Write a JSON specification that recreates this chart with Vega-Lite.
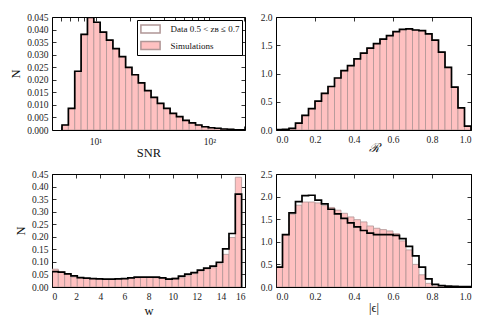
{
  "$schema": "https://vega.github.io/schema/vega-lite/v6.json",
  "background": "white",
  "padding": {"left": 9, "top": 11, "right": 5, "bottom": 5},
  "datasets": {
    "s1": [
      {"lo": 5.082, "hi": 5.778, "n": 0.0020}, {"lo": 5.778, "hi": 6.571, "n": 0.0086}, {"lo": 6.571, "hi": 7.472, "n": 0.0234},
      {"lo": 7.472, "hi": 8.495, "n": 0.0381}, {"lo": 8.495, "hi": 9.661, "n": 0.0448}, {"lo": 9.661, "hi": 10.98, "n": 0.0429},
      {"lo": 10.98, "hi": 12.49, "n": 0.0390}, {"lo": 12.49, "hi": 14.21, "n": 0.0358}, {"lo": 14.21, "hi": 16.15, "n": 0.0324},
      {"lo": 16.15, "hi": 18.37, "n": 0.0292}, {"lo": 18.37, "hi": 20.88, "n": 0.0249}, {"lo": 20.88, "hi": 23.75, "n": 0.0220},
      {"lo": 23.75, "hi": 27.01, "n": 0.0188}, {"lo": 27.01, "hi": 30.71, "n": 0.0157}, {"lo": 30.71, "hi": 34.91, "n": 0.0130},
      {"lo": 34.91, "hi": 39.70, "n": 0.0106}, {"lo": 39.70, "hi": 45.13, "n": 0.0086}, {"lo": 45.13, "hi": 51.33, "n": 0.0066},
      {"lo": 51.33, "hi": 58.37, "n": 0.0053}, {"lo": 58.37, "hi": 66.37, "n": 0.0038}, {"lo": 66.37, "hi": 75.47, "n": 0.0028},
      {"lo": 75.47, "hi": 85.82, "n": 0.0020}, {"lo": 85.82, "hi": 97.59, "n": 0.0013}, {"lo": 97.59, "hi": 110.97, "n": 0.0009},
      {"lo": 110.97, "hi": 126.2, "n": 0.0007}, {"lo": 126.2, "hi": 143.5, "n": 0.0004}, {"lo": 143.5, "hi": 163.2, "n": 0.0003},
      {"lo": 163.2, "hi": 185.5, "n": 0.0001}, {"lo": 185.5, "hi": 210.9, "n": 0.0001}
    ],
    "d1": [
      {"k": 0, "x": 5.082, "n": 0}, {"k": 1, "x": 5.082, "n": 0.0020}, {"k": 2, "x": 5.778, "n": 0.0086}, {"k": 3, "x": 6.571, "n": 0.0234},
      {"k": 4, "x": 7.472, "n": 0.0381}, {"k": 5, "x": 8.495, "n": 0.0448}, {"k": 6, "x": 9.661, "n": 0.0429}, {"k": 7, "x": 10.98, "n": 0.0390},
      {"k": 8, "x": 12.49, "n": 0.0358}, {"k": 9, "x": 14.21, "n": 0.0324}, {"k": 10, "x": 16.15, "n": 0.0292}, {"k": 11, "x": 18.37, "n": 0.0249},
      {"k": 12, "x": 20.88, "n": 0.0220}, {"k": 13, "x": 23.75, "n": 0.0188}, {"k": 14, "x": 27.01, "n": 0.0157}, {"k": 15, "x": 30.71, "n": 0.0130},
      {"k": 16, "x": 34.91, "n": 0.0106}, {"k": 17, "x": 39.70, "n": 0.0086}, {"k": 18, "x": 45.13, "n": 0.0066}, {"k": 19, "x": 51.33, "n": 0.0053},
      {"k": 20, "x": 58.37, "n": 0.0038}, {"k": 21, "x": 66.37, "n": 0.0028}, {"k": 22, "x": 75.47, "n": 0.0020}, {"k": 23, "x": 85.82, "n": 0.0013},
      {"k": 24, "x": 97.59, "n": 0.0009}, {"k": 25, "x": 110.97, "n": 0.0007}, {"k": 26, "x": 126.2, "n": 0.0004}, {"k": 27, "x": 143.5, "n": 0.0003},
      {"k": 28, "x": 163.2, "n": 0.0001}, {"k": 29, "x": 185.5, "n": 0.0001}, {"k": 30, "x": 210.9, "n": 0.0001}, {"k": 31, "x": 210.9, "n": 0}
    ],
    "s2": [
      {"lo": 0, "hi": 0.0333, "n": 0.005}, {"lo": 0.0333, "hi": 0.0667, "n": 0.01}, {"lo": 0.0667, "hi": 0.1, "n": 0.03},
      {"lo": 0.1, "hi": 0.1333, "n": 0.12}, {"lo": 0.1333, "hi": 0.1667, "n": 0.26}, {"lo": 0.1667, "hi": 0.2, "n": 0.38},
      {"lo": 0.2, "hi": 0.2333, "n": 0.51}, {"lo": 0.2333, "hi": 0.2667, "n": 0.65}, {"lo": 0.2667, "hi": 0.3, "n": 0.77},
      {"lo": 0.3, "hi": 0.3333, "n": 0.92}, {"lo": 0.3333, "hi": 0.3667, "n": 1.05}, {"lo": 0.3667, "hi": 0.4, "n": 1.14},
      {"lo": 0.4, "hi": 0.4333, "n": 1.26}, {"lo": 0.4333, "hi": 0.4667, "n": 1.36}, {"lo": 0.4667, "hi": 0.5, "n": 1.45},
      {"lo": 0.5, "hi": 0.5333, "n": 1.53}, {"lo": 0.5333, "hi": 0.5667, "n": 1.61}, {"lo": 0.5667, "hi": 0.6, "n": 1.67},
      {"lo": 0.6, "hi": 0.6333, "n": 1.74}, {"lo": 0.6333, "hi": 0.6667, "n": 1.78}, {"lo": 0.6667, "hi": 0.7, "n": 1.79},
      {"lo": 0.7, "hi": 0.7333, "n": 1.77}, {"lo": 0.7333, "hi": 0.7667, "n": 1.76}, {"lo": 0.7667, "hi": 0.8, "n": 1.70},
      {"lo": 0.8, "hi": 0.8333, "n": 1.59}, {"lo": 0.8333, "hi": 0.8667, "n": 1.38}, {"lo": 0.8667, "hi": 0.9, "n": 1.11},
      {"lo": 0.9, "hi": 0.9333, "n": 0.76}, {"lo": 0.9333, "hi": 0.9667, "n": 0.39}, {"lo": 0.9667, "hi": 1.0, "n": 0.07}
    ],
    "d2": [
      {"k": 0, "x": 0, "n": 0}, {"k": 1, "x": 0, "n": 0.005}, {"k": 2, "x": 0.0333, "n": 0.01}, {"k": 3, "x": 0.0667, "n": 0.03},
      {"k": 4, "x": 0.1, "n": 0.12}, {"k": 5, "x": 0.1333, "n": 0.26}, {"k": 6, "x": 0.1667, "n": 0.38}, {"k": 7, "x": 0.2, "n": 0.51},
      {"k": 8, "x": 0.2333, "n": 0.65}, {"k": 9, "x": 0.2667, "n": 0.77}, {"k": 10, "x": 0.3, "n": 0.92}, {"k": 11, "x": 0.3333, "n": 1.05},
      {"k": 12, "x": 0.3667, "n": 1.14}, {"k": 13, "x": 0.4, "n": 1.26}, {"k": 14, "x": 0.4333, "n": 1.36}, {"k": 15, "x": 0.4667, "n": 1.45},
      {"k": 16, "x": 0.5, "n": 1.53}, {"k": 17, "x": 0.5333, "n": 1.61}, {"k": 18, "x": 0.5667, "n": 1.67}, {"k": 19, "x": 0.6, "n": 1.74},
      {"k": 20, "x": 0.6333, "n": 1.78}, {"k": 21, "x": 0.6667, "n": 1.79}, {"k": 22, "x": 0.7, "n": 1.77}, {"k": 23, "x": 0.7333, "n": 1.76},
      {"k": 24, "x": 0.7667, "n": 1.70}, {"k": 25, "x": 0.8, "n": 1.59}, {"k": 26, "x": 0.8333, "n": 1.38}, {"k": 27, "x": 0.8667, "n": 1.11},
      {"k": 28, "x": 0.9, "n": 0.76}, {"k": 29, "x": 0.9333, "n": 0.39}, {"k": 30, "x": 0.9667, "n": 0.07}, {"k": 31, "x": 1.0, "n": 0.07},
      {"k": 32, "x": 1.0, "n": 0}
    ],
    "s3": [
      {"lo": 0, "hi": 0.524, "n": 0.071}, {"lo": 0.524, "hi": 1.048, "n": 0.061}, {"lo": 1.048, "hi": 1.572, "n": 0.052},
      {"lo": 1.572, "hi": 2.096, "n": 0.040}, {"lo": 2.096, "hi": 2.62, "n": 0.036}, {"lo": 2.62, "hi": 3.144, "n": 0.034},
      {"lo": 3.144, "hi": 3.668, "n": 0.033}, {"lo": 3.668, "hi": 4.192, "n": 0.032}, {"lo": 4.192, "hi": 4.716, "n": 0.031},
      {"lo": 4.716, "hi": 5.24, "n": 0.031}, {"lo": 5.24, "hi": 5.764, "n": 0.032}, {"lo": 5.764, "hi": 6.288, "n": 0.033},
      {"lo": 6.288, "hi": 6.812, "n": 0.035}, {"lo": 6.812, "hi": 7.336, "n": 0.037}, {"lo": 7.336, "hi": 7.86, "n": 0.038},
      {"lo": 7.86, "hi": 8.384, "n": 0.038}, {"lo": 8.384, "hi": 8.908, "n": 0.037}, {"lo": 8.908, "hi": 9.432, "n": 0.035},
      {"lo": 9.432, "hi": 9.956, "n": 0.034}, {"lo": 9.956, "hi": 10.48, "n": 0.036}, {"lo": 10.48, "hi": 11.004, "n": 0.037},
      {"lo": 11.004, "hi": 11.528, "n": 0.045}, {"lo": 11.528, "hi": 12.052, "n": 0.053}, {"lo": 12.052, "hi": 12.576, "n": 0.064},
      {"lo": 12.576, "hi": 13.1, "n": 0.072}, {"lo": 13.1, "hi": 13.624, "n": 0.077}, {"lo": 13.624, "hi": 14.148, "n": 0.093},
      {"lo": 14.148, "hi": 14.672, "n": 0.130}, {"lo": 14.672, "hi": 15.196, "n": 0.197}, {"lo": 15.196, "hi": 15.72, "n": 0.437}
    ],
    "d3": [
      {"k": 0, "x": 0, "n": 0}, {"k": 1, "x": 0, "n": 0.061}, {"k": 2, "x": 0.524, "n": 0.059}, {"k": 3, "x": 1.048, "n": 0.052},
      {"k": 4, "x": 1.572, "n": 0.044}, {"k": 5, "x": 2.096, "n": 0.037}, {"k": 6, "x": 2.62, "n": 0.035}, {"k": 7, "x": 3.144, "n": 0.033},
      {"k": 8, "x": 3.668, "n": 0.032}, {"k": 9, "x": 4.192, "n": 0.031}, {"k": 10, "x": 4.716, "n": 0.031}, {"k": 11, "x": 5.24, "n": 0.032},
      {"k": 12, "x": 5.764, "n": 0.033}, {"k": 13, "x": 6.288, "n": 0.036}, {"k": 14, "x": 6.812, "n": 0.039}, {"k": 15, "x": 7.336, "n": 0.039},
      {"k": 16, "x": 7.86, "n": 0.039}, {"k": 17, "x": 8.384, "n": 0.039}, {"k": 18, "x": 8.908, "n": 0.036}, {"k": 19, "x": 9.432, "n": 0.031},
      {"k": 20, "x": 9.956, "n": 0.033}, {"k": 21, "x": 10.48, "n": 0.043}, {"k": 22, "x": 11.004, "n": 0.051}, {"k": 23, "x": 11.528, "n": 0.057},
      {"k": 24, "x": 12.052, "n": 0.067}, {"k": 25, "x": 12.576, "n": 0.075}, {"k": 26, "x": 13.1, "n": 0.083}, {"k": 27, "x": 13.624, "n": 0.0985},
      {"k": 28, "x": 14.148, "n": 0.152}, {"k": 29, "x": 14.672, "n": 0.213}, {"k": 30, "x": 15.196, "n": 0.370}, {"k": 31, "x": 15.72, "n": 0.370},
      {"k": 32, "x": 15.72, "n": 0}
    ],
    "s4": [
      {"lo": 0, "hi": 0.0333, "n": 0.44}, {"lo": 0.0333, "hi": 0.0667, "n": 1.15}, {"lo": 0.0667, "hi": 0.1, "n": 1.61},
      {"lo": 0.1, "hi": 0.1333, "n": 1.81}, {"lo": 0.1333, "hi": 0.1667, "n": 1.88}, {"lo": 0.1667, "hi": 0.2, "n": 1.88},
      {"lo": 0.2, "hi": 0.2333, "n": 1.86}, {"lo": 0.2333, "hi": 0.2667, "n": 1.80}, {"lo": 0.2667, "hi": 0.3, "n": 1.76},
      {"lo": 0.3, "hi": 0.3333, "n": 1.70}, {"lo": 0.3333, "hi": 0.3667, "n": 1.63}, {"lo": 0.3667, "hi": 0.4, "n": 1.55},
      {"lo": 0.4, "hi": 0.4333, "n": 1.49}, {"lo": 0.4333, "hi": 0.4667, "n": 1.44}, {"lo": 0.4667, "hi": 0.5, "n": 1.35},
      {"lo": 0.5, "hi": 0.5333, "n": 1.30}, {"lo": 0.5333, "hi": 0.5667, "n": 1.27}, {"lo": 0.5667, "hi": 0.6, "n": 1.24},
      {"lo": 0.6, "hi": 0.6333, "n": 1.18}, {"lo": 0.6333, "hi": 0.6667, "n": 1.02}, {"lo": 0.6667, "hi": 0.7, "n": 0.82},
      {"lo": 0.7, "hi": 0.7333, "n": 0.50}, {"lo": 0.7333, "hi": 0.7667, "n": 0.27}, {"lo": 0.7667, "hi": 0.8, "n": 0.08},
      {"lo": 0.8, "hi": 0.8333, "n": 0.02}, {"lo": 0.8333, "hi": 0.8667, "n": 0.005}, {"lo": 0.8667, "hi": 0.9, "n": 0},
      {"lo": 0.9, "hi": 0.9333, "n": 0}, {"lo": 0.9333, "hi": 0.9667, "n": 0}, {"lo": 0.9667, "hi": 1.0, "n": 0}
    ],
    "d4": [
      {"k": 0, "x": 0, "n": 0}, {"k": 1, "x": 0, "n": 0.44}, {"k": 2, "x": 0.0333, "n": 1.16}, {"k": 3, "x": 0.0667, "n": 1.64},
      {"k": 4, "x": 0.1, "n": 1.89}, {"k": 5, "x": 0.1333, "n": 2.02}, {"k": 6, "x": 0.1667, "n": 2.03}, {"k": 7, "x": 0.2, "n": 1.92},
      {"k": 8, "x": 0.2333, "n": 1.84}, {"k": 9, "x": 0.2667, "n": 1.72}, {"k": 10, "x": 0.3, "n": 1.62}, {"k": 11, "x": 0.3333, "n": 1.52},
      {"k": 12, "x": 0.3667, "n": 1.42}, {"k": 13, "x": 0.4, "n": 1.33}, {"k": 14, "x": 0.4333, "n": 1.25}, {"k": 15, "x": 0.4667, "n": 1.19},
      {"k": 16, "x": 0.5, "n": 1.16}, {"k": 17, "x": 0.5333, "n": 1.16}, {"k": 18, "x": 0.5667, "n": 1.16}, {"k": 19, "x": 0.6, "n": 1.14},
      {"k": 20, "x": 0.6333, "n": 1.07}, {"k": 21, "x": 0.6667, "n": 0.90}, {"k": 22, "x": 0.7, "n": 0.69}, {"k": 23, "x": 0.7333, "n": 0.44},
      {"k": 24, "x": 0.7667, "n": 0.18}, {"k": 25, "x": 0.8, "n": 0.06}, {"k": 26, "x": 0.8333, "n": 0.03}, {"k": 27, "x": 0.8667, "n": 0.02},
      {"k": 28, "x": 0.9, "n": 0.015}, {"k": 29, "x": 0.9333, "n": 0.01}, {"k": 30, "x": 0.9667, "n": 0.008}, {"k": 31, "x": 1.0, "n": 0.008},
      {"k": 32, "x": 1.0, "n": 0}
    ]
  },
  "columns": 2,
  "spacing": {"row": 8, "column": 13},
  "concat": [
    {
      "width": 193, "height": 113,
      "layer": [
        {
          "data": {"name": "s1"},
          "mark": {"type": "bar", "stroke": "#b09696", "strokeWidth": 0.8, "clip": true},
          "encoding": {
            "x": {"field": "lo", "type": "quantitative", "scale": {"type": "log", "domain": [4.15, 205], "nice": false},
                  "axis": {"orient": "bottom", "title": "SNR", "labelPadding": 10, "titlePadding": 1, "values": [5, 6, 7, 8, 9, 10, 20, 30, 40, 50, 60, 70, 80, 90, 100, 200],
                           "labelExpr": "datum.value == 10 ? '10¹' : (datum.value == 100 ? '10²' : '')"}},
            "x2": {"field": "hi"},
            "y": {"field": "n", "type": "quantitative", "scale": {"domain": [0, 0.045], "nice": false},
                  "axis": {"orient": "left", "title": "N", "values": [0, 0.005, 0.01, 0.015, 0.02, 0.025, 0.03, 0.035, 0.04, 0.045], "format": ".3f"}},
            "y2": {"datum": 0},
            "fill": {"datum": "Simulations", "type": "nominal",
                     "scale": {"domain": ["Data 0.5 < zʙ ≤ 0.7", "Simulations"], "range": ["white", "#ffc1c1"]},
                     "legend": {"title": null, "orient": "top-right", "offset": 3,
                                "encode": {"symbols": {"update": {
                                  "stroke": {"signal": "datum.value == 'Simulations' ? '#eaa9a9' : 'black'"},
                                  "strokeWidth": {"signal": "datum.value == 'Simulations' ? 1 : 1.6"}}}}}}
          }
        },
        {
          "data": {"name": "d1"},
          "mark": {"type": "line", "interpolate": "step-after", "stroke": "black", "strokeWidth": 1.7, "clip": true},
          "encoding": {
            "x": {"field": "x", "type": "quantitative", "scale": {"type": "log", "domain": [4.15, 205], "nice": false},
                  "axis": {"orient": "top", "title": null, "labels": false, "values": [5, 6, 7, 8, 9, 10, 20, 30, 40, 50, 60, 70, 80, 90, 100, 200]}},
            "y": {"field": "n", "type": "quantitative", "scale": {"domain": [0, 0.045], "nice": false},
                  "axis": {"orient": "right", "title": null, "labels": false, "values": [0, 0.005, 0.01, 0.015, 0.02, 0.025, 0.03, 0.035, 0.04, 0.045]}},
            "order": {"field": "k", "type": "quantitative"}
          }
        }
      ],
      "resolve": {"axis": {"x": "independent", "y": "independent"}}
    },
    {
      "width": 195, "height": 113,
      "layer": [
        {
          "data": {"name": "s2"},
          "mark": {"type": "bar", "fill": "#ffc1c1", "stroke": "#b09696", "strokeWidth": 0.8, "clip": true},
          "encoding": {
            "x": {"field": "lo", "type": "quantitative", "scale": {"domain": [0, 1], "nice": false},
                  "axis": {"orient": "bottom", "title": "ℛ", "titlePadding": -2, "titleFontStyle": "italic", "values": [0, 0.2, 0.4, 0.6, 0.8, 1.0], "format": ".1f"}},
            "x2": {"field": "hi"},
            "y": {"field": "n", "type": "quantitative", "scale": {"domain": [0, 2], "nice": false},
                  "axis": {"orient": "left", "title": null, "values": [0, 0.5, 1, 1.5, 2], "format": ".1f"}},
            "y2": {"datum": 0}
          }
        },
        {
          "data": {"name": "d2"},
          "mark": {"type": "line", "interpolate": "step-after", "stroke": "black", "strokeWidth": 1.7, "clip": true},
          "encoding": {
            "x": {"field": "x", "type": "quantitative", "scale": {"domain": [0, 1], "nice": false},
                  "axis": {"orient": "top", "title": null, "labels": false, "values": [0, 0.2, 0.4, 0.6, 0.8, 1.0]}},
            "y": {"field": "n", "type": "quantitative", "scale": {"domain": [0, 2], "nice": false},
                  "axis": {"orient": "right", "title": null, "labels": false, "values": [0, 0.5, 1, 1.5, 2]}},
            "order": {"field": "k", "type": "quantitative"}
          }
        }
      ],
      "resolve": {"axis": {"x": "independent", "y": "independent"}}
    },
    {
      "width": 193, "height": 113,
      "layer": [
        {
          "data": {"name": "s3"},
          "mark": {"type": "bar", "fill": "#ffc1c1", "stroke": "#b09696", "strokeWidth": 0.8, "clip": true},
          "encoding": {
            "x": {"field": "lo", "type": "quantitative", "scale": {"domain": [0, 16], "nice": false},
                  "axis": {"orient": "bottom", "title": "w", "values": [0, 2, 4, 6, 8, 10, 12, 14, 16], "format": "d"}},
            "x2": {"field": "hi"},
            "y": {"field": "n", "type": "quantitative", "scale": {"domain": [0, 0.45], "nice": false},
                  "axis": {"orient": "left", "title": "N", "values": [0, 0.05, 0.1, 0.15, 0.2, 0.25, 0.3, 0.35, 0.4, 0.45], "format": ".2f"}},
            "y2": {"datum": 0}
          }
        },
        {
          "data": {"name": "d3"},
          "mark": {"type": "line", "interpolate": "step-after", "stroke": "black", "strokeWidth": 1.7, "clip": true},
          "encoding": {
            "x": {"field": "x", "type": "quantitative", "scale": {"domain": [0, 16], "nice": false},
                  "axis": {"orient": "top", "title": null, "labels": false, "values": [0, 2, 4, 6, 8, 10, 12, 14, 16]}},
            "y": {"field": "n", "type": "quantitative", "scale": {"domain": [0, 0.45], "nice": false},
                  "axis": {"orient": "right", "title": null, "labels": false, "values": [0, 0.05, 0.1, 0.15, 0.2, 0.25, 0.3, 0.35, 0.4, 0.45]}},
            "order": {"field": "k", "type": "quantitative"}
          }
        }
      ],
      "resolve": {"axis": {"x": "independent", "y": "independent"}}
    },
    {
      "width": 195, "height": 113,
      "layer": [
        {
          "data": {"name": "s4"},
          "mark": {"type": "bar", "fill": "#ffc1c1", "stroke": "#b09696", "strokeWidth": 0.8, "clip": true},
          "encoding": {
            "x": {"field": "lo", "type": "quantitative", "scale": {"domain": [0, 1], "nice": false},
                  "axis": {"orient": "bottom", "title": "|ϵ|", "titlePadding": 1, "values": [0, 0.2, 0.4, 0.6, 0.8, 1.0], "format": ".1f"}},
            "x2": {"field": "hi"},
            "y": {"field": "n", "type": "quantitative", "scale": {"domain": [0, 2.5], "nice": false},
                  "axis": {"orient": "left", "title": null, "values": [0, 0.5, 1, 1.5, 2, 2.5], "format": ".1f"}},
            "y2": {"datum": 0}
          }
        },
        {
          "data": {"name": "d4"},
          "mark": {"type": "line", "interpolate": "step-after", "stroke": "black", "strokeWidth": 1.7, "clip": true},
          "encoding": {
            "x": {"field": "x", "type": "quantitative", "scale": {"domain": [0, 1], "nice": false},
                  "axis": {"orient": "top", "title": null, "labels": false, "values": [0, 0.2, 0.4, 0.6, 0.8, 1.0]}},
            "y": {"field": "n", "type": "quantitative", "scale": {"domain": [0, 2.5], "nice": false},
                  "axis": {"orient": "right", "title": null, "labels": false, "values": [0, 0.5, 1, 1.5, 2, 2.5]}},
            "order": {"field": "k", "type": "quantitative"}
          }
        }
      ],
      "resolve": {"axis": {"x": "independent", "y": "independent"}}
    }
  ],
  "resolve": {"scale": {"fill": "independent"}, "legend": {"fill": "independent"}},
  "config": {
    "font": "Liberation Serif",
    "view": {"stroke": "black", "strokeWidth": 1},
    "axis": {
      "domain": false, "grid": false, "tickColor": "black", "tickSize": -4, "tickWidth": 0.8, "labelPadding": 8,
      "labelFont": "Liberation Serif", "labelFontSize": 9.5, "labelColor": "#222",
      "titleFont": "Liberation Serif", "titleFontSize": 12.5, "titleFontWeight": "normal", "titleColor": "#111", "titlePadding": 4
    },
    "legend": {
      "strokeColor": "black", "fillColor": "white", "padding": 2, "cornerRadius": 0,
      "labelFont": "Liberation Serif", "labelFontSize": 9, "labelColor": "#111", "labelOffset": 13,
      "symbolType": "M-1.6,-0.65H1.6V0.65H-1.6Z", "symbolSize": 144, "symbolOffset": 4.5, "symbolOpacity": 1, "rowPadding": 2.5
    }
  }
}
